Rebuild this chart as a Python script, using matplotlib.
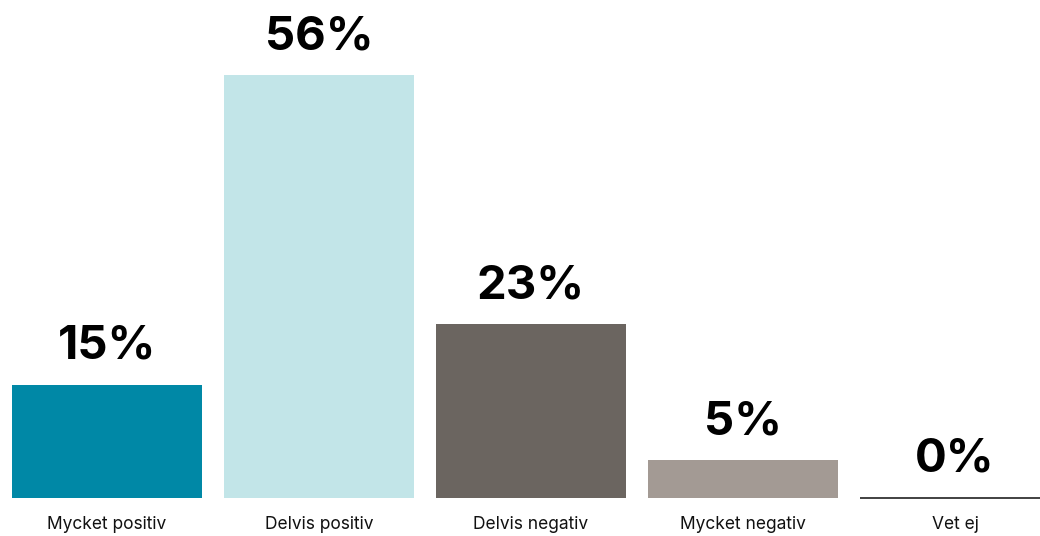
import matplotlib
matplotlib.use("Agg")
import matplotlib.pyplot as plt

categories = ["Mycket positiv", "Delvis positiv", "Delvis negativ", "Mycket negativ", "Vet ej"]
values = [15, 56, 23, 5, 0]
labels = ["15%", "56%", "23%", "5%", "0%"]
colors = ["#0088a6", "#c2e5e8", "#6b6560", "#a39a94", "#ffffff"]

W, H = 1040, 536
fig = plt.figure(figsize=(W / 100, H / 100), dpi=100)
base = 498
ppu = 7.55
ax = fig.add_axes([0, (H - base) / H, 1, base / H])
ax.set_xlim(-0.505, 4.401)
ax.set_ylim(0, base / ppu)
x = list(range(len(values)))
bars = ax.bar(x, values, width=0.896, color=colors)
# baseline line for the zero bar
ax.hlines(0, 4 - 0.448, 4 + 0.448, color="#333333", linewidth=1.3, clip_on=False)
for xi, v, lab in zip(x, values, labels):
    ax.annotate(lab, (xi, v), xytext=(0, 16), textcoords="offset pixels",
                ha="center", va="bottom", fontsize=34, fontweight="bold",
                family="Inter", color="#000000")
    ax.annotate(categories[xi], (xi, 0), xytext=(0, -18), textcoords="offset pixels",
                ha="center", va="top", fontsize=12.5, family="Inter", color="#111111")
ax.axis("off")
fig.savefig("out.png", dpi=100)
